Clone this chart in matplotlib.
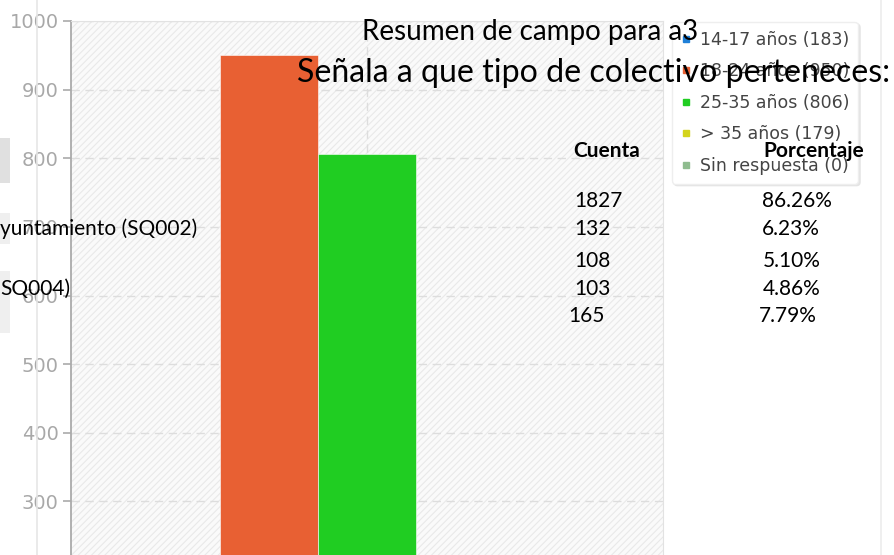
import matplotlib.pyplot as plt
from matplotlib.patches import Rectangle
from matplotlib.lines import Line2D
from matplotlib.transforms import Affine2D

# chart data
categories = ["14-17 años", "18-24 años", "25-35 años", "> 35 años", "Sin respuesta"]
chart_counts = [183, 950, 806, 179, 0]
bar_colors = ["#1f80d8", "#e86033", "#20cd22", "#d4d41c", "#8fbc8f"]
y_ticks = [300, 400, 500, 600, 700, 800, 900, 1000]

# overlay table texts
title_lines = ["Resumen de campo para a3", "Señala a que tipo de colectivo perteneces:"]
table_header = ["Cuenta", "Porcentaje"]
table_counts = ["1827", "132", "108", "103", "165"]
table_pcts = ["86.26%", "6.23%", "5.10%", "4.86%", "7.79%"]
row_labels = ["yuntamiento (SQ002)", "SQ004)"]

W, H = 894, 555
plt.rcParams["hatch.linewidth"] = 0.8

fig = plt.figure(figsize=(W / 100, H / 100), dpi=100)
fig.patch.set_facecolor("white")
px = Affine2D().scale(1 / W, -1 / H).translate(0, 1) + fig.transFigure

# page decorations left/right
fig.add_artist(Line2D([37, 37], [0, H], color="#e6e6e6", lw=1.2, transform=px))
fig.add_artist(Line2D([881, 881], [0, H], color="#ececec", lw=1.2, transform=px))
fig.add_artist(Rectangle((0, 138), 10, 45, color="#e0e0e0", lw=0, transform=px))
fig.add_artist(Rectangle((0, 213), 10, 31, color="#efefef", lw=0, transform=px))
fig.add_artist(Rectangle((0, 271), 10, 62, color="#efefef", lw=0, transform=px))

ax = fig.add_axes([71 / W, 0, (663 - 71) / W, (H - 21) / H])
ax.set_facecolor("#fafafa")
ax.add_patch(Rectangle((0, 0), 1, 1, transform=ax.transAxes, facecolor="#fafafa",
                       edgecolor="#e9e9e9", hatch="/////", lw=0, zorder=0))

x = range(len(categories))
bars = ax.bar(x, chart_counts, width=1.0, color=bar_colors, edgecolor="#ffffff",
              linewidth=0.4, zorder=3)

ax.set_xlim(-1.03, 5.03)
ax.set_ylim(222, 1000)
ax.set_yticks(y_ticks)
ax.set_xticks([2])
ax.set_xticklabels([])
ax.tick_params(axis="x", length=0)
ax.grid(True, color="#dddddd", linestyle=(0, (6, 4)), linewidth=1.0, zorder=1)
ax.set_axisbelow(True)
ax.tick_params(axis="y", length=6, width=1.2, color="#aaaaaa", pad=3,
               labelcolor="#a8a8a8", labelsize=14)
ax.spines["left"].set_color("#aaaaaa")
ax.spines["left"].set_linewidth(1.3)
ax.spines["top"].set_color("#e2e2e2")
ax.spines["right"].set_color("#e2e2e2")
ax.spines["bottom"].set_visible(False)

# legend
handles = [Line2D([], [], marker="s", linestyle="", markersize=5, color=c) for c in bar_colors]
labels = [f"{c} ({v})" for c, v in zip(categories, chart_counts)]
leg = fig.legend(handles, labels, loc="upper left", bbox_to_anchor=(672 / W, 1 - 22 / H),
                 borderaxespad=0, frameon=True, fancybox=True, framealpha=1,
                 edgecolor="#eeeeee", handlelength=0.6, handletextpad=0.5,
                 labelspacing=0.78, borderpad=0.5,
                 shadow={"ox": 1.5, "oy": -1.5, "color": "#e4e4e4", "alpha": 1},
                 prop={"size": 12.5}, labelcolor="#444444")
leg.set_zorder(5)


def fit_width(t, width):
    fig.canvas.draw()
    bb = t.get_window_extent()
    t.set_fontsize(t.get_fontsize() * width / bb.width)


font = "Lato"
t1 = fig.text(362, 40, title_lines[0], fontsize=22, family=font, color="black",
              transform=px, zorder=10)
t2 = fig.text(297, 82, title_lines[1], fontsize=22, family=font, color="black",
              transform=px, zorder=10)
fit_width(t1, 697 - 362)
fit_width(t2, 888 - 297)

fig.text(573, 157, table_header[0], fontsize=15, family=font, weight="bold",
         transform=px, zorder=10)
fig.text(763, 157, table_header[1], fontsize=15, family=font, weight="bold",
         transform=px, zorder=10)

row_base = [207, 235, 267, 295, 322]
count_x = [574, 574, 574, 574, 568]
pct_x = [762, 762, 763, 763, 759]
for i in range(len(table_counts)):
    fig.text(count_x[i], row_base[i], table_counts[i], fontsize=15, family=font,
             transform=px, zorder=10)
    fig.text(pct_x[i], row_base[i], table_pcts[i], fontsize=15, family=font,
             transform=px, zorder=10)

fig.text(0, 235, row_labels[0], fontsize=15, family=font, transform=px, zorder=10)
fig.text(0, 295, row_labels[1], fontsize=15, family=font, transform=px, zorder=10)

fig.savefig("out.png", dpi=100)
